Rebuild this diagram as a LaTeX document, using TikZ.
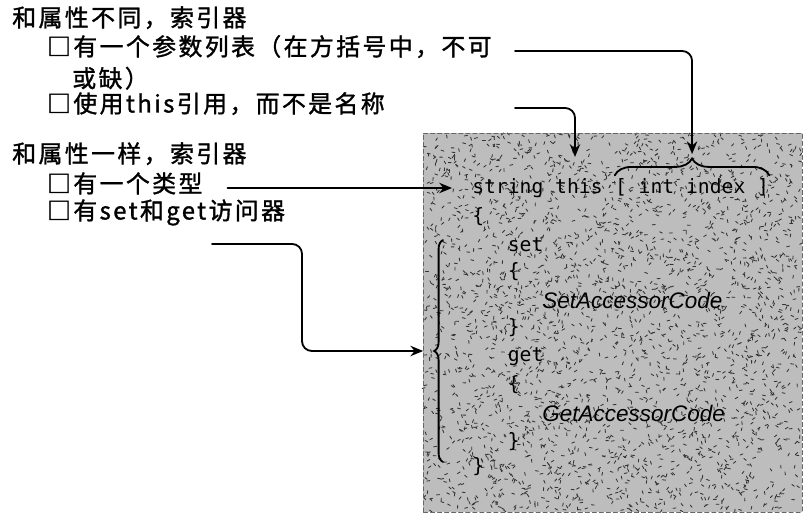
\documentclass[tikz,border=0pt]{standalone}
\usepackage{fontspec}
\setmainfont{Liberation Sans}
\setmonofont{DejaVu Sans Mono}
\newfontfamily\cjk{Noto Sans CJK SC}[LetterSpace=10,FakeBold=1.3]
\usepackage{tikz}
\usetikzlibrary{arrows.meta,decorations.pathreplacing}

\tikzset{
  note/.style={inner sep=0pt,anchor=west,text height=0.72em,text depth=0.08em,
    font=\cjk\fontsize{17}{20}\selectfont},
  code/.style={inner sep=0pt,anchor=west,font=\ttfamily\fontsize{14}{17}\selectfont},
  impl/.style={inner sep=0pt,anchor=west,font=\itshape\fontsize{16}{19}\selectfont},
  arr/.style={-{Stealth[length=3.2mm,width=2.6mm]},line width=1.3pt,rounded corners=7pt},
  curly/.style={decorate,line width=1.3pt},
}

\begin{document}
\begin{tikzpicture}[line cap=round]
\useasboundingbox (0,0) rectangle (20.3,13.1);
% speckled code panel
\fill[black!26] (10.575,0.3) rectangle (20.05,9.775);
\pgfmathsetseed{4217}
\foreach \k in {1,...,2800}{
  \pgfmathsetmacro{\px}{10.62+9.38*rnd}
  \pgfmathsetmacro{\py}{0.34+9.4*rnd}
  \pgfmathsetmacro{\pa}{360*rnd}
  \draw[black!80,line width=0.6pt] (\px,\py) -- ++(\pa:0.075);
}
\draw[black!60,densely dashed,line width=0.6pt] (10.575,0.3) rectangle (20.05,9.775);

% notes on the left
\node[note] (differ) at (0.3,12.55) {和属性不同，索引器};
\node[note] (params) at (1.17,11.825) {□有一个参数列表（在方括号中，不可};
\node[note] (params2) at (1.8,11.03) {或缺）};
\node[note] (thisnote) at (1.17,10.4) {□使用this引用，而不是名称};
\node[note] (same) at (0.3,9.15) {和属性一样，索引器};
\node[note] (type) at (1.17,8.4) {□有一个类型};
\node[note] (access) at (1.17,7.725) {□有set和get访问器};

% indexer code
\node[code] (sig) at (11.8,8.4) {string this};
\node[code,anchor=base west] (idx) at ([xshift=8.43pt]sig.base east) {[ int index ]};
\node[code] (open) at (11.8,7.675) {\{};
\node[code] (set) at (12.69,6.975) {set};
\node[code] (setopen) at (12.69,6.3) {\{};
\node[impl] (setbody) at (13.55,5.6) {SetAccessorCode};
\node[code] (setclose) at (12.69,4.9) {\}};
\node[code] (get) at (12.69,4.175) {get};
\node[code] (getopen) at (12.69,3.475) {\{};
\node[impl] (getbody) at (13.55,2.775) {GetAccessorCode};
\node[code] (getclose) at (12.69,2.05) {\}};
\node[code] (close) at (11.8,1.425) {\}};

% braces
\draw[curly,decoration={brace,amplitude=0.42cm,raise=2pt}] (idx.north west) -- (idx.north east);
\path (idx.north) ++(0,0.6) coordinate (idxtip);
\coordinate (accbot) at (11.075,1.55);
\coordinate (acctop) at (11.075,7.1);
\draw[curly,decoration={brace,amplitude=0.22cm}] (accbot) -- (acctop);
\coordinate (acctip) at (10.58,4.325);

% connectors
\coordinate (callout) at (12.875,11.825);
\coordinate (thisref) at (14.375,9.175);
\coordinate (setget) at (5.3,7.0);
\draw[arr] (callout) -| (idxtip);
\draw[arr] (callout |- thisnote.east) -| (thisref);
\draw[arr,shorten <=0.62cm,shorten >=0.5cm] (type.east) -- (type.east -| sig.west);
\draw[arr] (setget) -- ++(2.25,0) |- (acctip);
\end{tikzpicture}
\end{document}
